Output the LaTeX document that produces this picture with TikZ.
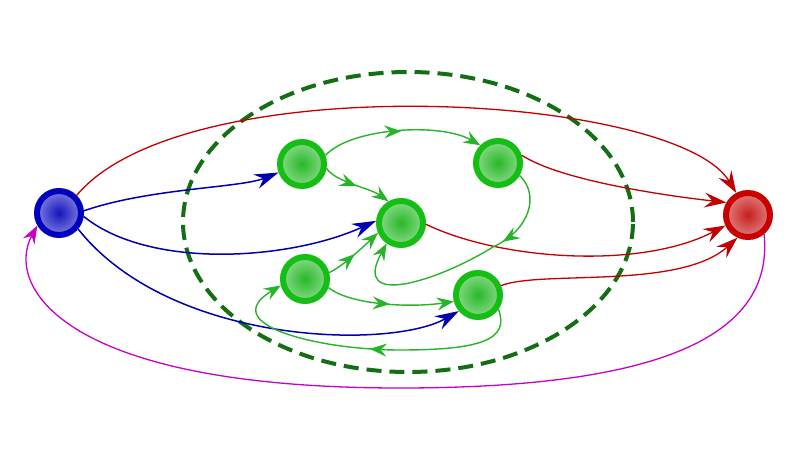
\documentclass[tikz,border=0pt]{standalone}
\usetikzlibrary{arrows.meta,decorations.markings}
\definecolor{gring}{RGB}{20,190,20}
\definecolor{gcore}{RGB}{40,185,40}
\definecolor{glight}{RGB}{200,238,200}
\definecolor{bring}{RGB}{0,0,190}
\definecolor{bcore}{RGB}{20,20,190}
\definecolor{blight}{RGB}{195,195,245}
\definecolor{rring}{RGB}{200,0,0}
\definecolor{rcore}{RGB}{200,30,30}
\definecolor{rlight}{RGB}{240,190,190}
\definecolor{gedge}{RGB}{40,180,40}
\definecolor{bedge}{RGB}{0,0,175}
\definecolor{redge}{RGB}{195,0,0}
\definecolor{medge}{RGB}{200,0,200}
\definecolor{dashg}{RGB}{20,110,20}
\pgfdeclareradialshading{gball}{\pgfpoint{0bp}{0bp}}{color(0bp)=(gcore); color(42bp)=(glight); color(50bp)=(glight)}
\pgfdeclareradialshading{bball}{\pgfpoint{0bp}{0bp}}{color(0bp)=(bcore); color(42bp)=(blight); color(50bp)=(blight)}
\pgfdeclareradialshading{rball}{\pgfpoint{0bp}{0bp}}{color(0bp)=(rcore); color(42bp)=(rlight); color(50bp)=(rlight)}
\tikzset{
  ball/.style={circle, minimum size=44pt, inner sep=0pt, line width=6pt},
  gnode/.style={ball, draw=gring, shading=gball},
  bnode/.style={ball, draw=bring, shading=bball},
  rnode/.style={ball, draw=rring, shading=rball},
  midarr/.style={postaction={decorate, decoration={markings, mark=at position #1 with {\arrow{Stealth[length=17pt,width=13pt,inset=6pt]}}}}},
  midarr/.default=0.5,
  gpath/.style={color=gedge, line width=1.4pt, -{Stealth[length=17pt,width=13pt,inset=6pt]}},
  bpath/.style={color=bedge, line width=1.5pt, -{Stealth[length=24pt,width=15pt,inset=8pt]}},
  rpath/.style={color=redge, line width=1.3pt, -{Stealth[length=22pt,width=15pt,inset=8pt]}},
  mpath/.style={color=medge, line width=1.3pt, -{Stealth[length=18pt,width=13pt,inset=6pt]}},
  region/.style={draw=dashg, line width=4pt, dash pattern=on 15pt off 8pt}
}
\begin{document}
\begin{tikzpicture}[x=1pt,y=1pt]
\useasboundingbox (0,0) rectangle (800,450);
\fill[white] (0,0) rectangle (800,450);
\draw[region] (408,228) ellipse [x radius=225, y radius=150];
\node[bnode] (B) at (59,237) {};
\node[rnode] (R) at (748,235) {};
\node[gnode] (G1) at (302,286) {};
\node[gnode] (G2) at (498,287) {};
\node[gnode] (G3) at (401,227) {};
\node[gnode] (G4) at (305,171) {};
\node[gnode] (G5) at (478,155) {};
% red
\draw[rpath] (B.45) .. controls (186,385) and (676,357) .. (R.118);
\draw[rpath] (G2.18) .. controls (560,270) and (660,255) .. (R.150);
\draw[rpath] (G3.-3) .. controls (500,190) and (640,180) .. (R.205);
\draw[rpath] (G5.22) .. controls (540,180) and (680,160) .. (R.245);
% blue
\draw[bpath] (B.5) .. controls (150,262) and (240,262) .. (G1.200);
\draw[bpath] (B.-8) .. controls (150,180) and (290,190) .. (G3.175);
\draw[bpath] (B.-40) .. controls (170,105) and (390,100) .. (G5.220);
% magenta
\coordinate (mb) at (400,62);
\draw[mpath] (R.-50) .. controls (775,110) and (650,62) .. (mb) .. controls (60,62) and (5,165) .. (B.210);
% green
\draw[gpath, midarr] (G1.20) .. controls (350,322) and (440,328) .. (G2.135);
\draw[gpath, midarr] (G1.-10) .. controls (335,268) and (370,262) .. (G3.120);
\draw[gpath, midarr] (G4.15) .. controls (340,182) and (360,200) .. (G3.203);
\draw[gpath, midarr] (G4.-20) .. controls (350,145) and (410,142) .. (G5.195);
\coordinate (l1) at (493,203);
\draw[gpath, midarr=0.32] (G2.-30) .. controls (540,255) and (530,220) .. (l1) .. controls (440,170) and (350,140) .. (G3.235);
\coordinate (l2) at (400,100);
\draw[gpath, midarr] (G5.-35) .. controls (510,110) and (480,100) .. (l2) .. controls (320,100) and (215,125) .. (G4.195);
\end{tikzpicture}
\end{document}
